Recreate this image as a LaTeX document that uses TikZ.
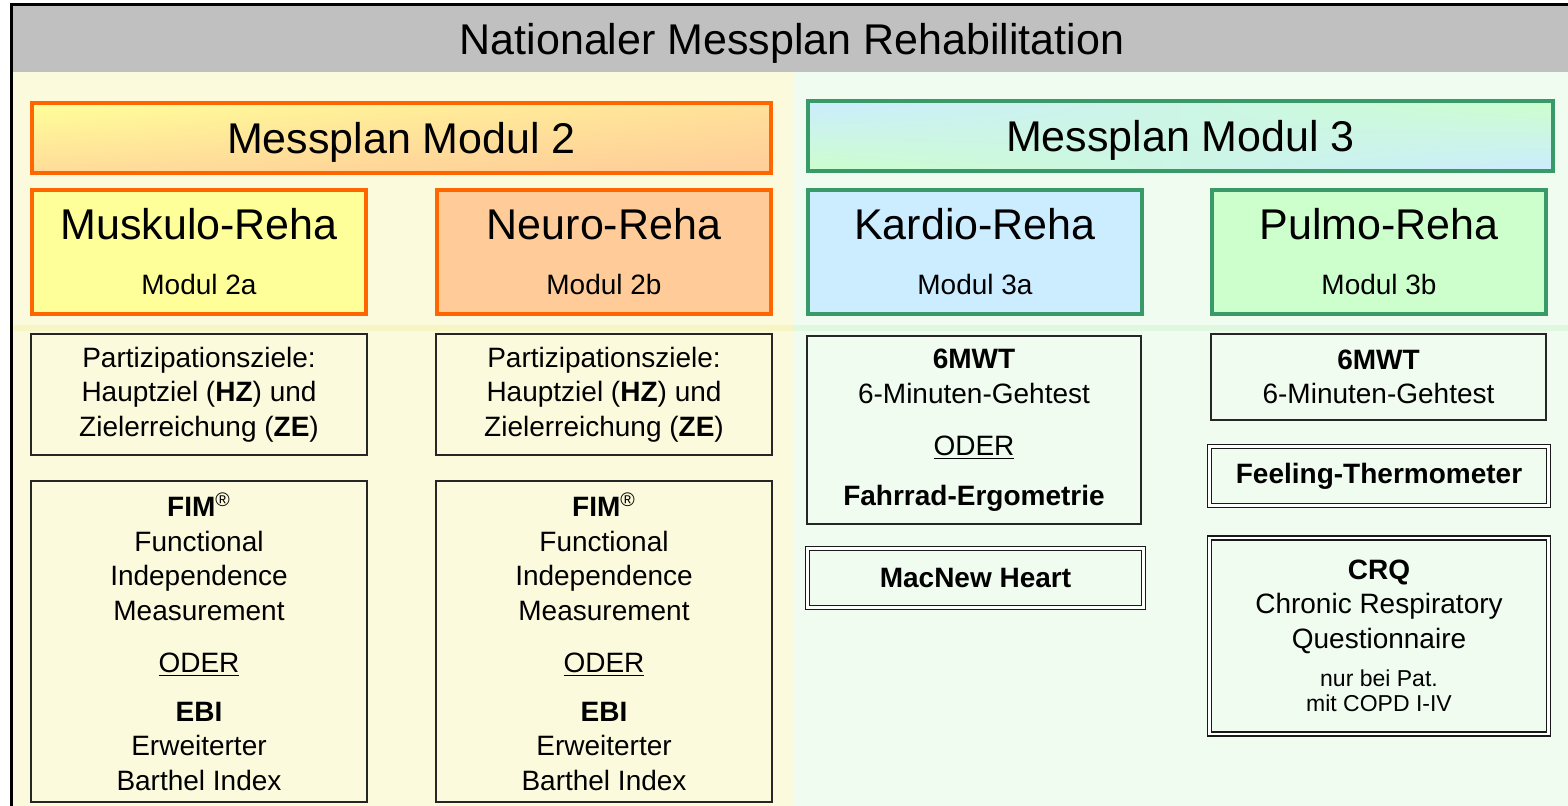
\documentclass[tikz,border=0pt]{standalone}
\usepackage{fontspec}
\setmainfont{Liberation Sans}
\usetikzlibrary{positioning,shadings}

\definecolor{framegray}{HTML}{C0C0C0}
\definecolor{creambg}{HTML}{FCFADC}
\definecolor{greenbg}{HTML}{EFFCEF}
\definecolor{creamband}{HTML}{F7F5C4}
\definecolor{greenband}{HTML}{E0F8E0}
\definecolor{orangeline}{HTML}{FF6600}
\definecolor{greenline}{HTML}{379A68}
\definecolor{yellowfill}{HTML}{FFFF99}
\definecolor{peachfill}{HTML}{FFCC99}
\definecolor{bluefill}{HTML}{CCECFF}
\definecolor{mintfill}{HTML}{CCFFCC}

\newcommand{\smallfont}{\fontsize{11.5}{12.5}\selectfont}

\tikzset{
	headbox/.style={draw=#1, line width=2pt, inner sep=0pt, minimum height=35pt, text depth=0pt,
		font=\fontsize{21.5}{25}\selectfont},
	rehabox/.style={draw=#1, line width=2pt, inner sep=0pt, minimum width=167pt, minimum height=62pt},
	bigtxt/.style={anchor=base, inner sep=0pt, font=\fontsize{21.5}{25}\selectfont},
	modtxt/.style={anchor=base, inner sep=0pt, font=\fontsize{14}{17}\selectfont},
	testbox/.style={draw=black!85, line width=1pt, inner sep=0pt, align=center,
		font=\fontsize{14}{17.25}\selectfont},
	dblbox/.style={draw=black!90, line width=0.75pt, double distance=1.2pt, inner sep=0pt, align=center,
		font=\fontsize{14}{17.25}\selectfont}
}

\begin{document}
\begin{tikzpicture}[x=0.5pt, y=-0.5pt]
			%%%%% START %%%%%
			\useasboundingbox (0, 0) rectangle (1568, 806);
			
			\fill[white] (0, 0) rectangle (1568, 806);
			\fill[creambg] (12, 72) rectangle (793, 806);
			\fill[greenbg] (793, 72) rectangle (1568, 806);
			\fill[creamband] (12, 325) rectangle (793, 331);
			\fill[greenband] (793, 325) rectangle (1568, 331);
			\fill[framegray] (12, 6) rectangle (1568, 72);
			\draw[line width=1.5pt] (11, 806) -- (11, 5) -- (1568, 5);
			
			\node[text depth=0pt, font=\fontsize{21.5}{25}\selectfont] (title) at (792, 39) {Nationaler Messplan Rehabilitation};
			
			\node[headbox=orangeline, minimum width=369.5pt, upper left=yellowfill, upper right=peachfill!60!yellowfill,
				lower left=peachfill!70!yellowfill, lower right=peachfill] (modul2) at (401.5, 138) {Messplan Modul 2};
			\node[headbox=greenline, minimum width=372.5pt, upper left=bluefill, upper right=mintfill,
				lower left=mintfill, lower right=bluefill] (modul3) at (1180.5, 136) {Messplan Modul 3};
			
			\node[rehabox=orangeline, fill=yellowfill] (muskulo) at (199, 252) {};
			\node[rehabox=orangeline, fill=peachfill] (neuro) at (604, 252) {};
			\node[rehabox=greenline, fill=bluefill] (kardio) at (975, 252) {};
			\node[rehabox=greenline, fill=mintfill] (pulmo) at (1379, 252) {};
			
			\node[bigtxt] (muskulo-t) at (199, 240) {Muskulo-Reha};
			\node[modtxt] (muskulo-m) at (199, 295) {Modul 2a};
			\node[bigtxt] (neuro-t) at (604, 240) {Neuro-Reha};
			\node[modtxt] (neuro-m) at (604, 295) {Modul 2b};
			\node[bigtxt] (kardio-t) at (975, 240) {Kardio-Reha};
			\node[modtxt] (kardio-m) at (975, 295) {Modul 3a};
			\node[bigtxt] (pulmo-t) at (1379, 240) {Pulmo-Reha};
			\node[modtxt] (pulmo-m) at (1379, 295) {Modul 3b};
			
			% Modul 2
			\node[testbox, fill=creambg, minimum width=168pt, minimum height=60.5pt] (ziele-m) at (199, 394.5)
				{Partizipationsziele:\\Hauptziel (\textbf{HZ}) und\\Zielerreichung (\textbf{ZE})};
			\node[testbox, fill=creambg, minimum width=168pt, minimum height=60.5pt] (ziele-n) at (604, 394.5)
				{Partizipationsziele:\\Hauptziel (\textbf{HZ}) und\\Zielerreichung (\textbf{ZE})};
			
			\node[testbox, fill=creambg, minimum width=168pt, minimum height=160.5pt] (fim-m) at (199, 641.5)
				{\textbf{FIM}\textsuperscript{®}\\Functional\\Independence\\Measurement\\[9pt]\underline{ODER}\\[7pt]\textbf{EBI}\\Erweiterter\\Barthel Index};
			\node[testbox, fill=creambg, minimum width=168pt, minimum height=160.5pt] (fim-n) at (604, 641.5)
				{\textbf{FIM}\textsuperscript{®}\\Functional\\Independence\\Measurement\\[9pt]\underline{ODER}\\[7pt]\textbf{EBI}\\Erweiterter\\Barthel Index};
			
			% Modul 3
			\node[testbox, fill=greenbg, minimum width=167pt, minimum height=94pt] (gehtest-k) at (974, 430)
				{\textbf{6MWT}\\6-Minuten-Gehtest\\[9pt]\underline{ODER}\\[7.5pt]\textbf{Fahrrad-Ergometrie}};
			\node[dblbox, fill=greenbg, minimum width=168pt, minimum height=29.5pt] (macnew) at (975.5, 578)
				{\textbf{MacNew Heart}};
			
			\node[testbox, fill=greenbg, minimum width=167.5pt, minimum height=43pt] (gehtest-p) at (1378.5, 377)
				{\textbf{6MWT}\\6-Minuten-Gehtest};
			\node[dblbox, fill=greenbg, minimum width=169.5pt, minimum height=29.5pt] (feeling) at (1379, 476)
				{\textbf{Feeling-Thermometer}};
			\node[dblbox, fill=greenbg, minimum width=169.5pt, minimum height=98pt] (crq) at (1379, 636)
				{\textbf{CRQ}\\Chronic Respiratory\\Questionnaire\\[2pt]{\smallfont nur bei Pat.}\\[-4.75pt]{\smallfont mit COPD I-IV}};
			
			%%%%% END %%%%%
		\end{tikzpicture}
\end{document}
